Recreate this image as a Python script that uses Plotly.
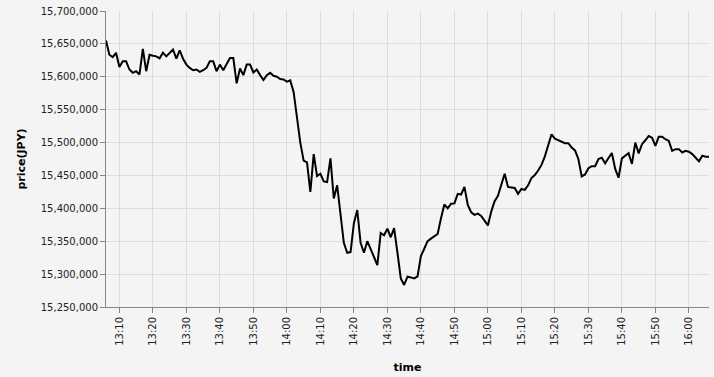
import pandas as pd
import plotly.graph_objects as go

start_time = "2024-01-01 13:06"
n_minutes = 181
times = pd.date_range(start_time, periods=n_minutes, freq="1min")

prices = [
    15655000, 15633500, 15630000, 15636500, 15615000, 15623500, 15623500, 15611000, 15606000, 15608500,
    15603500, 15642500, 15608500, 15633500, 15632000, 15631000, 15628000, 15636500, 15631000, 15636500,
    15641500, 15627500, 15640000, 15627500, 15618500, 15613500, 15610000, 15611000, 15607500, 15610000,
    15613500, 15623500, 15623500, 15608500, 15618500, 15610000, 15618500, 15628500, 15628500, 15590000,
    15612500, 15602500, 15618500, 15618500, 15606500, 15611000, 15602500, 15595000, 15602500, 15606000,
    15601500, 15600000, 15596500, 15596000, 15592500, 15594500, 15577000, 15540000, 15500000, 15472500,
    15470000, 15425000, 15482500, 15449000, 15452500, 15441000, 15440000, 15476000, 15415000, 15435000,
    15390000, 15347500, 15332500, 15333500, 15377500, 15397500, 15347500, 15332500, 15350000, 15339000,
    15326000, 15313500, 15362500, 15359000, 15369000, 15356000, 15370000, 15332500, 15293500, 15283500,
    15296000, 15295000, 15293500, 15296500, 15327500, 15338500, 15350000, 15354000, 15357500, 15361000,
    15385000, 15406000, 15400000, 15407000, 15407500, 15422000, 15421000, 15432500, 15405000, 15394000,
    15390000, 15392000, 15388500, 15381500, 15374000, 15395000, 15411000, 15419000, 15434000, 15452500,
    15432500, 15431500, 15431000, 15422000, 15429500, 15428000, 15435000, 15446000, 15450500, 15457500,
    15466000, 15479000, 15496000, 15512500, 15506000, 15504000, 15501000, 15499000, 15499000, 15492500,
    15488000, 15475000, 15448500, 15451500, 15461000, 15464000, 15464000, 15475000, 15477000, 15468500,
    15476500, 15484000, 15460000, 15446500, 15476000, 15480000, 15484000, 15467500, 15500000, 15483500,
    15497500, 15503500, 15510000, 15507500, 15495000, 15509000, 15509000, 15505000, 15502500, 15487500,
    15490000, 15490000, 15485000, 15487500, 15486000, 15482500, 15476500, 15471500, 15480000, 15478500,
    15478500,
]

y_ticks = list(range(15250000, 15700001, 50000))
x_tick_start = "2024-01-01 13:10"

fig = go.Figure()
fig.add_trace(go.Scatter(
    x=times, y=prices, mode="lines",
    line=dict(color="black", width=2),
    hoverinfo="skip",
))

fig.update_layout(
    width=714, height=377,
    margin=dict(l=106, r=5, t=10, b=67),
    paper_bgcolor="#f4f4f4",
    plot_bgcolor="#f4f4f4",
    font=dict(family="DejaVu Sans", size=10, color="#222"),
    showlegend=False,
)
fig.update_xaxes(
    range=[times[0], times[-1]],
    tick0=x_tick_start, dtick=600000,
    tickformat="%H:%M", tickangle=-90,
    ticks="outside", ticklen=5, tickcolor="#888",
    showline=True, linecolor="#888", linewidth=1,
    showgrid=True, gridcolor="#ddd", gridwidth=1,
    zeroline=False,
    title=dict(text="<b>time</b>", font=dict(size=11, color="#000"), standoff=18),
)
fig.update_yaxes(
    range=[15250000, 15700000],
    tickvals=y_ticks, tickformat=",d",
    ticks="outside", ticklen=5, tickcolor="#888",
    showline=True, linecolor="#888", linewidth=1,
    showgrid=True, gridcolor="#ddd", gridwidth=1,
    zeroline=False,
    title=dict(text="<b>price(JPY)</b>", font=dict(size=11, color="#000"), standoff=12),
)

fig.write_html("out.html")
